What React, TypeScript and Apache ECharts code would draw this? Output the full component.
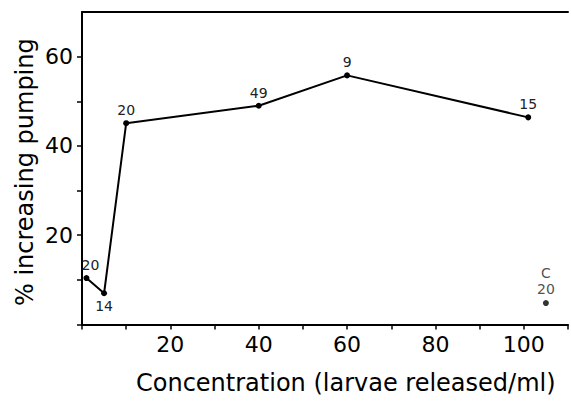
import React, { useEffect, useRef } from "react";
import * as echarts from "echarts";

const concentration = [1, 5, 10, 40, 60, 101];
const pctIncreasing = [10.4, 7.0, 45.1, 49.0, 55.8, 46.4];
const sampleSizes = ["20", "14", "20", "49", "9", "15"];
const labelBelow = [false, true, false, false, false, false];
const controlX = [105];
const controlY = [4.8];
const controlLabel = "C\n20";
const xTickLabels = [20, 40, 60, 80, 100];
const yTickLabels = [20, 40, 60];
const yTicks = [0, 10, 20, 30, 40, 50, 60];

const FONT = "DejaVu Sans";

export default function App() {
  const ref = useRef<HTMLDivElement>(null);
  useEffect(() => {
    const chart = echarts.init(ref.current!, null, { renderer: "svg" });
    const lineData = concentration.map((x, i) => ({
      value: [x, pctIncreasing[i]],
      label: {
        show: true,
        formatter: sampleSizes[i],
        position: labelBelow[i] ? "bottom" : "top",
        offset: i === 0 ? [4, 0] : [0, 0],
      },
    }));
    chart.setOption({
      animation: false,
      backgroundColor: "#ffffff",
      grid: { left: 82, right: 0, top: 12, bottom: 76.5, containLabel: false },
      xAxis: [
        {
          type: "value",
          min: 0,
          max: 110,
          interval: 10,
          axisLine: { show: true, lineStyle: { color: "#000", width: 2 } },
          axisTick: { show: true, length: 5, inside: false, lineStyle: { color: "#000", width: 1.5 } },
          splitLine: { show: false },
          axisLabel: {
            margin: 9,
            color: "#000",
            fontFamily: FONT,
            fontSize: 22,
            formatter: (v: number) => (xTickLabels.includes(v) ? String(v) : ""),
          },
        },
        {
          type: "value",
          position: "top",
          min: 0,
          max: 110,
          axisLine: { show: true, onZero: false, lineStyle: { color: "#000", width: 2 } },
          axisTick: { show: false },
          axisLabel: { show: false },
          splitLine: { show: false },
        },
      ],
      yAxis: {
        type: "value",
        min: 0,
        max: 70,
        interval: 10,
        axisLine: { show: true, lineStyle: { color: "#000", width: 2 } },
        axisTick: { show: true, length: 5, customValues: yTicks, lineStyle: { color: "#000", width: 1.5 } },
        splitLine: { show: false },
        axisLabel: {
          margin: 9,
          color: "#000",
          fontFamily: FONT,
          fontSize: 22,
          customValues: yTickLabels,
          formatter: (v: number) => String(v),
        },
      },
      series: [
        {
          type: "line",
          data: lineData,
          symbol: "circle",
          symbolSize: 6,
          itemStyle: { color: "#000" },
          lineStyle: { color: "#000", width: 2 },
          label: { color: "#222", fontFamily: FONT, fontSize: 14, distance: 3 },
        },
        {
          type: "scatter",
          data: controlX.map((x, i) => [x, controlY[i]]),
          symbol: "circle",
          symbolSize: 6,
          itemStyle: { color: "#000" },
          label: {
            show: true,
            position: "top",
            formatter: controlLabel,
            color: "#222",
            fontFamily: FONT,
            fontSize: 14,
            lineHeight: 16,
            distance: 3,
          },
        },
      ],
      graphic: [
        {
          type: "text",
          left: 136,
          top: 371,
          style: {
            text: "Concentration (larvae released/ml)",
            fontFamily: FONT,
            fontSize: 24,
            fill: "#000",
          },
        },
        {
          type: "text",
          x: 13,
          y: 306,
          rotation: Math.PI / 2,
          style: {
            text: "% increasing pumping",
            fontFamily: FONT,
            fontSize: 24,
            fill: "#000",
            textAlign: "left",
            textVerticalAlign: "top",
          },
        },
      ],
    });
    return () => chart.dispose();
  }, []);
  return <div ref={ref} style={{ width: 571, height: 401, position: "absolute", left: 0, top: 0 }} />;
}
